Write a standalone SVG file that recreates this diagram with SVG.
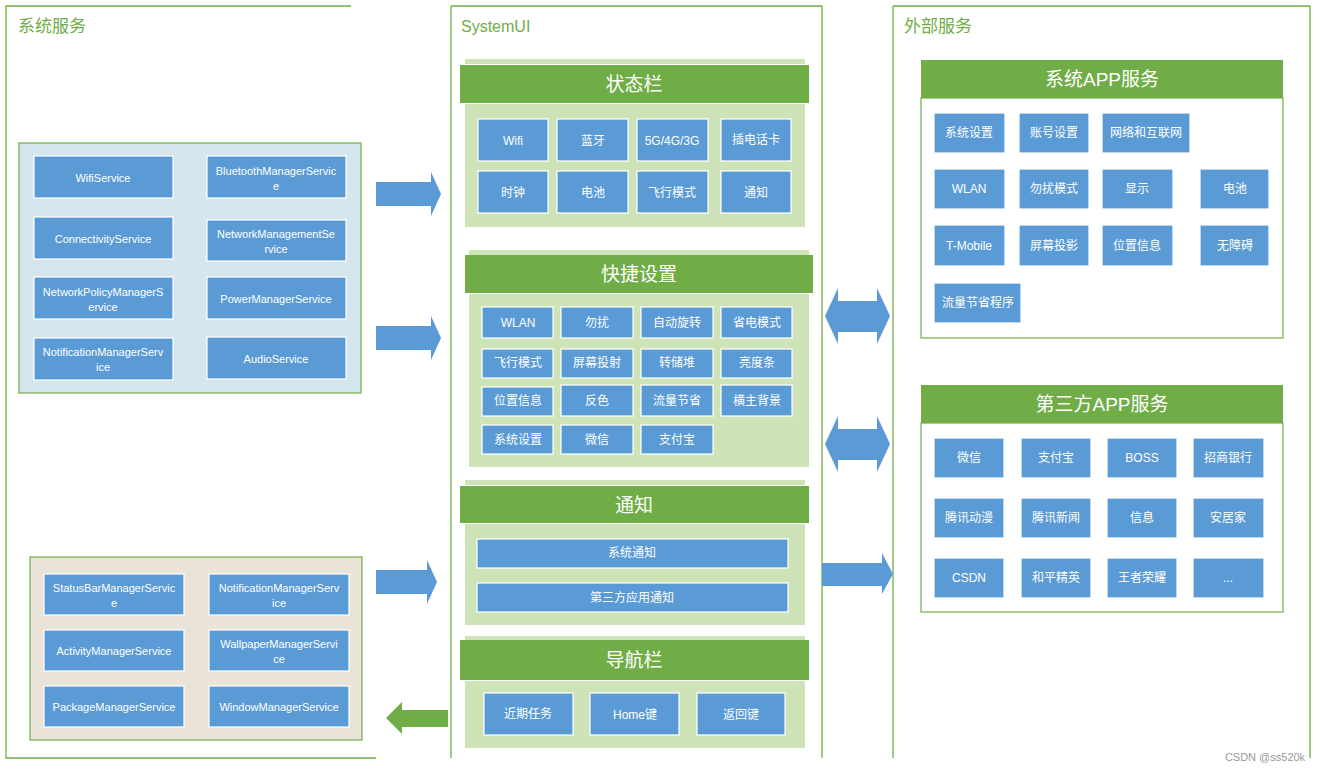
<svg xmlns="http://www.w3.org/2000/svg" width="1320" height="771" viewBox="0 0 1320 771">
<style>
text{font-family:"Liberation Sans","Noto Sans CJK SC",sans-serif;text-anchor:middle;dominant-baseline:central}
.pl{fill:none;stroke:#70AD47;stroke-width:1.3}
.tt{fill:#70AD47;font-size:17px;text-anchor:start}
.b{fill:#5B9BD5;stroke:#fff;stroke-width:1.2}
.bt{fill:#fff;font-size:11px}
.ct{fill:#fff;font-size:12px}
.hd{fill:#70AD47}
.ht{fill:#fff;font-size:19px}
.lg{fill:#CFE3B9}
.ar{fill:#5B9BD5}
</style>
<rect width="1320" height="771" fill="#fff"/>
<g id="panels">
<path class="pl" d="M351 6H6V758H376"/>
<path class="pl" d="M451 6H822V758M451 6V758"/>
<path class="pl" d="M893 6H1310V758M893 6V758"/>
<text class="tt" x="18" y="26">系统服务</text>
<text class="tt" x="461" y="26" style="font-size:16px">SystemUI</text>
<text class="tt" x="904" y="26">外部服务</text>
</g>
<g id="sysgroup1">
<rect x="19" y="143" width="342" height="250" fill="#D6E6EE" stroke="#70AD47" stroke-width="1.2"/>
<rect class="b" x="34" y="156" width="139" height="42"/><text class="bt" x="103" y="178">WifiService</text>
<rect class="b" x="207" y="156" width="139" height="42"/><text class="bt" x="276" y="171">BluetoothManagerServic</text><text class="bt" x="276" y="186">e</text>
<rect class="b" x="34" y="217" width="139" height="42"/><text class="bt" x="103" y="239">ConnectivityService</text>
<rect class="b" x="207" y="220" width="139" height="41"/><text class="bt" x="276" y="234">NetworkManagementSe</text><text class="bt" x="276" y="249">rvice</text>
<rect class="b" x="34" y="277" width="139" height="42"/><text class="bt" x="103" y="292">NetworkPolicyManagerS</text><text class="bt" x="103" y="307">ervice</text>
<rect class="b" x="207" y="277" width="139" height="42"/><text class="bt" x="276" y="299">PowerManagerService</text>
<rect class="b" x="34" y="338" width="139" height="42"/><text class="bt" x="103" y="352">NotificationManagerServ</text><text class="bt" x="103" y="367">ice</text>
<rect class="b" x="207" y="337" width="139" height="42"/><text class="bt" x="276" y="359">AudioService</text>
</g>
<g id="sysgroup2">
<rect x="30" y="557" width="332" height="183" fill="#EAE4D8" stroke="#70AD47" stroke-width="1.2"/>
<rect class="b" x="44" y="574" width="140" height="41"/><text class="bt" x="114" y="588">StatusBarManagerServic</text><text class="bt" x="114" y="603">e</text>
<rect class="b" x="209" y="574" width="140" height="41"/><text class="bt" x="279" y="588">NotificationManagerServ</text><text class="bt" x="279" y="603">ice</text>
<rect class="b" x="44" y="630" width="140" height="41"/><text class="bt" x="114" y="651">ActivityManagerService</text>
<rect class="b" x="209" y="630" width="140" height="41"/><text class="bt" x="279" y="644">WallpaperManagerServi</text><text class="bt" x="279" y="659">ce</text>
<rect class="b" x="44" y="686" width="140" height="41"/><text class="bt" x="114" y="707">PackageManagerService</text>
<rect class="b" x="209" y="686" width="140" height="41"/><text class="bt" x="279" y="707">WindowManagerService</text>
</g>
<g id="statusbar">
<rect class="lg" x="465" y="59" width="340" height="5"/>
<rect class="lg" x="465" y="104" width="340" height="123"/>
<rect class="hd" x="460" y="65" width="349" height="38"/><text class="ht" x="634" y="84">状态栏</text>
<rect class="b" x="478" y="119" width="70" height="42"/><text class="ct" x="513" y="141">Wifi</text>
<rect class="b" x="557" y="119" width="71" height="42"/><text class="ct" x="593" y="141">蓝牙</text>
<rect class="b" x="637" y="119" width="71" height="42"/><text class="ct" x="672" y="141">5G/4G/3G</text>
<rect class="b" x="721" y="119" width="70" height="42"/><text class="ct" x="756" y="140">插电话卡</text>
<rect class="b" x="478" y="171" width="70" height="42"/><text class="ct" x="513" y="193">时钟</text>
<rect class="b" x="557" y="171" width="71" height="42"/><text class="ct" x="593" y="193">电池</text>
<rect class="b" x="637" y="171" width="71" height="42"/><text class="ct" x="672" y="193">飞行模式</text>
<rect class="b" x="721" y="171" width="70" height="42"/><text class="ct" x="756" y="193">通知</text>
</g>
<g id="quicksettings">
<rect class="lg" x="469" y="250" width="340" height="5"/>
<rect class="lg" x="469" y="294" width="340" height="173"/>
<rect class="hd" x="465" y="255" width="348" height="38"/><text class="ht" x="639" y="274">快捷设置</text>
<rect class="b" x="482" y="307" width="71" height="31"/><text class="ct" x="518" y="323">WLAN</text>
<rect class="b" x="561" y="307" width="72" height="31"/><text class="ct" x="597" y="323">勿扰</text>
<rect class="b" x="641" y="307" width="72" height="31"/><text class="ct" x="677" y="323">自动旋转</text>
<rect class="b" x="721" y="307" width="71" height="31"/><text class="ct" x="757" y="323">省电模式</text>
<rect class="b" x="482" y="349" width="71" height="29"/><text class="ct" x="518" y="363">飞行模式</text>
<rect class="b" x="561" y="349" width="72" height="29"/><text class="ct" x="597" y="363">屏幕投射</text>
<rect class="b" x="641" y="349" width="72" height="29"/><text class="ct" x="677" y="363">转储堆</text>
<rect class="b" x="721" y="349" width="71" height="29"/><text class="ct" x="757" y="363">亮度条</text>
<rect class="b" x="482" y="387" width="71" height="29"/><text class="ct" x="518" y="401">位置信息</text>
<rect class="b" x="561" y="385" width="72" height="31"/><text class="ct" x="597" y="401">反色</text>
<rect class="b" x="641" y="385" width="72" height="31"/><text class="ct" x="677" y="401">流量节省</text>
<rect class="b" x="721" y="385" width="71" height="31"/><text class="ct" x="757" y="401">横主背景</text>
<rect class="b" x="482" y="425" width="71" height="29"/><text class="ct" x="518" y="440">系统设置</text>
<rect class="b" x="561" y="425" width="72" height="29"/><text class="ct" x="597" y="440">微信</text>
<rect class="b" x="641" y="425" width="72" height="29"/><text class="ct" x="677" y="440">支付宝</text>
</g>
<g id="notification">
<rect class="lg" x="465" y="480" width="340" height="5"/>
<rect class="lg" x="465" y="524" width="340" height="101"/>
<rect class="hd" x="460" y="486" width="349" height="37"/><text class="ht" x="634" y="505">通知</text>
<rect class="b" x="477" y="539" width="311" height="29"/><text class="ct" x="632" y="553">系统通知</text>
<rect class="b" x="477" y="583" width="311" height="29"/><text class="ct" x="632" y="598">第三方应用通知</text>
</g>
<g id="navbar">
<rect class="lg" x="465" y="636" width="340" height="4"/>
<rect class="lg" x="465" y="681" width="340" height="67"/>
<rect class="hd" x="460" y="640" width="349" height="40"/><text class="ht" x="634" y="660">导航栏</text>
<rect class="b" x="484" y="693" width="89" height="42"/><text class="ct" x="528" y="714">近期任务</text>
<rect class="b" x="590" y="693" width="89" height="42"/><text class="ct" x="635" y="715">Home键</text>
<rect class="b" x="697" y="693" width="88" height="42"/><text class="ct" x="741" y="715">返回键</text>
</g>
<g id="sysapp">
<rect x="921" y="98" width="362" height="240" fill="#fff" stroke="#70AD47" stroke-width="1.2"/>
<rect class="hd" x="921" y="60" width="362" height="38"/><text class="ht" x="1102" y="79">系统APP服务</text>
<rect class="b" x="934" y="113" width="71" height="40" stroke="none"/><text class="ct" x="969" y="133">系统设置</text>
<rect class="b" x="1019" y="113" width="70" height="40" stroke="none"/><text class="ct" x="1054" y="133">账号设置</text>
<rect class="b" x="1102" y="113" width="88" height="40" stroke="none"/><text class="ct" x="1146" y="133">网络和互联网</text>
<rect class="b" x="934" y="169" width="71" height="40" stroke="none"/><text class="ct" x="969" y="189">WLAN</text>
<rect class="b" x="1019" y="169" width="70" height="40" stroke="none"/><text class="ct" x="1054" y="189">勿扰模式</text>
<rect class="b" x="1102" y="169" width="71" height="40" stroke="none"/><text class="ct" x="1137" y="189">显示</text>
<rect class="b" x="1200" y="169" width="69" height="40" stroke="none"/><text class="ct" x="1235" y="189">电池</text>
<rect class="b" x="934" y="225" width="71" height="41" stroke="none"/><text class="ct" x="969" y="246">T-Mobile</text>
<rect class="b" x="1019" y="225" width="70" height="41" stroke="none"/><text class="ct" x="1054" y="246">屏幕投影</text>
<rect class="b" x="1102" y="225" width="71" height="41" stroke="none"/><text class="ct" x="1137" y="246">位置信息</text>
<rect class="b" x="1200" y="225" width="69" height="41" stroke="none"/><text class="ct" x="1235" y="246">无障碍</text>
<rect class="b" x="934" y="283" width="87" height="40" stroke="none"/><text class="ct" x="978" y="303">流量节省程序</text>
</g>
<g id="thirdapp">
<rect x="921" y="423" width="362" height="189" fill="#fff" stroke="#70AD47" stroke-width="1.2"/>
<rect class="hd" x="921" y="385" width="362" height="38"/><text class="ht" x="1102" y="404">第三方APP服务</text>
<rect class="b" x="934" y="438" width="70" height="40" stroke="none"/><text class="ct" x="969" y="458">微信</text>
<rect class="b" x="1021" y="438" width="70" height="40" stroke="none"/><text class="ct" x="1056" y="458">支付宝</text>
<rect class="b" x="1107" y="438" width="70" height="40" stroke="none"/><text class="ct" x="1142" y="458">BOSS</text>
<rect class="b" x="1193" y="438" width="71" height="40" stroke="none"/><text class="ct" x="1228" y="458">招商银行</text>
<rect class="b" x="934" y="498" width="70" height="40" stroke="none"/><text class="ct" x="969" y="518">腾讯动漫</text>
<rect class="b" x="1021" y="498" width="70" height="40" stroke="none"/><text class="ct" x="1056" y="518">腾讯新闻</text>
<rect class="b" x="1107" y="498" width="70" height="40" stroke="none"/><text class="ct" x="1142" y="518">信息</text>
<rect class="b" x="1193" y="498" width="71" height="40" stroke="none"/><text class="ct" x="1228" y="518">安居家</text>
<rect class="b" x="934" y="558" width="70" height="40" stroke="none"/><text class="ct" x="969" y="578">CSDN</text>
<rect class="b" x="1021" y="558" width="70" height="40" stroke="none"/><text class="ct" x="1056" y="578">和平精英</text>
<rect class="b" x="1107" y="558" width="70" height="40" stroke="none"/><text class="ct" x="1142" y="578">王者荣耀</text>
<rect class="b" x="1193" y="558" width="71" height="40" stroke="none"/><text class="ct" x="1228" y="578">...</text>
</g>
<g id="connectors">
<polygon class="ar" points="376,182 431,182 431,172 441,194 431,216 431,206 376,206"/>
<polygon class="ar" points="376,326 431,326 431,316 441,338 431,360 431,350 376,350"/>
<polygon class="ar" points="376,570 427,570 427,560 437,582 427,604 427,594 376,594"/>
<polygon fill="#70AD47" points="448,710 402,710 402,702 386,718 402,734 402,727 448,727"/>
<polygon class="ar" points="825,316 838,288 838,301 877,301 877,288 890,316 877,344 877,332 838,332 838,344"/>
<polygon class="ar" points="825,444 838,416 838,429 877,429 877,416 890,444 877,472 877,460 838,460 838,472"/>
<polygon class="ar" points="822,563 882,563 882,553 893,574 882,594 882,586 822,586"/>
</g>
<text x="1265" y="757" style="font-size:11px;fill:#999">CSDN @ss520k</text>
</svg>
